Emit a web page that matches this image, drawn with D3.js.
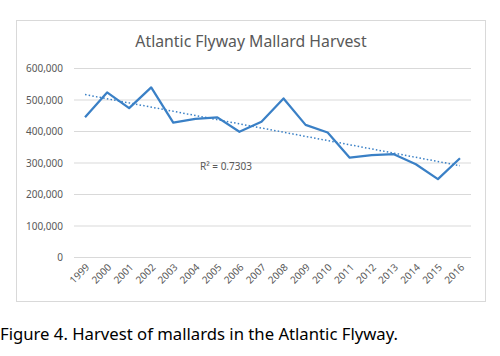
<!DOCTYPE html>
<html><head><meta charset="utf-8">
<script src="https://cdn.jsdelivr.net/npm/d3@7"></script>
<style>body{margin:0;background:#fff}svg{display:block}</style>
</head><body>
<svg id="c" width="500" height="356"></svg>
<script>
const years = ["1999","2000","2001","2002","2003","2004","2005","2006","2007","2008","2009","2010","2011","2012","2013","2014","2015","2016"];
const harvest = [445000,524000,474000,540000,428000,440000,445000,399000,431000,505000,421000,397000,317000,325000,328000,296000,249000,315000];
const yTicks = [0,100000,200000,300000,400000,500000,600000];
const title = "Atlantic Flyway Mallard Harvest";
const caption = "Figure 4. Harvest of mallards in the Atlantic Flyway.";
const r2Label = "R² = 0.7303";

const svg = d3.select("#c");
const font = "'Noto Sans', sans-serif";
const blue = "#3a80c6";

svg.append("rect").attr("x",16.5).attr("y",20.5).attr("width",469).attr("height",281)
  .attr("fill","#fff").attr("stroke","#d9d9d9");

const x = d3.scaleBand().domain(years).range([74,471]);
const y = d3.scaleLinear().domain([0,600000]).range([257.5,68.5]);

const g = svg.append("g");
g.selectAll("line.grid").data(yTicks).join("line")
  .attr("x1",74).attr("x2",471).attr("y1",d=>y(d)).attr("y2",d=>y(d))
  .attr("stroke","#d9d9d9").attr("stroke-width",1);

const yAxis = d3.axisLeft(y).tickValues(yTicks).tickFormat(d3.format(",")).tickSize(0).tickPadding(0);
const ya = svg.append("g").attr("transform","translate(63,0)").call(yAxis);
ya.select(".domain").remove();
ya.selectAll("text").attr("font-family",font).attr("font-size",10).attr("fill","#595959");

const xAxis = d3.axisBottom(x).tickSize(0).tickPadding(0);
const xa = svg.append("g").attr("transform","translate(0,262)").call(xAxis);
xa.select(".domain").remove();
xa.selectAll("text").attr("font-family",font).attr("font-size",10).attr("fill","#595959")
  .attr("text-anchor","end").attr("dy",null).attr("y",0)
  .attr("transform","translate(5,6) rotate(-45)");

const cx = d => x(d) + x.bandwidth()/2;
const line = d3.line().x((d,i)=>cx(years[i])).y(d=>y(d));
svg.append("path").datum(harvest).attr("d",line).attr("fill","none")
  .attr("stroke",blue).attr("stroke-width",2.25).attr("stroke-linejoin","round");

// linear trendline (least squares over index)
const n = harvest.length;
const mx = d3.mean(harvest,(d,i)=>i), my = d3.mean(harvest);
const slope = d3.sum(harvest,(d,i)=>(i-mx)*(d-my)) / d3.sum(harvest,(d,i)=>(i-mx)*(i-mx));
const icpt = my - slope*mx;
svg.append("line").attr("x1",cx(years[0])).attr("x2",cx(years[n-1]))
  .attr("y1",y(icpt)).attr("y2",y(icpt+slope*(n-1)))
  .attr("stroke",blue).attr("stroke-width",1.5).attr("stroke-dasharray","1.5,2.2");

svg.append("text").attr("x",200).attr("y",170).attr("font-family",font).attr("font-size",10)
  .attr("fill","#595959").text(r2Label);

svg.append("text").attr("x",251).attr("y",47).attr("text-anchor","middle")
  .attr("font-family",font).attr("font-size",15.8).attr("fill","#595959").text(title);

svg.append("text").attr("x",0).attr("y",340).attr("font-family",font).attr("font-size",16.7)
  .attr("fill","#000").text(caption);
</script>
</body></html>
